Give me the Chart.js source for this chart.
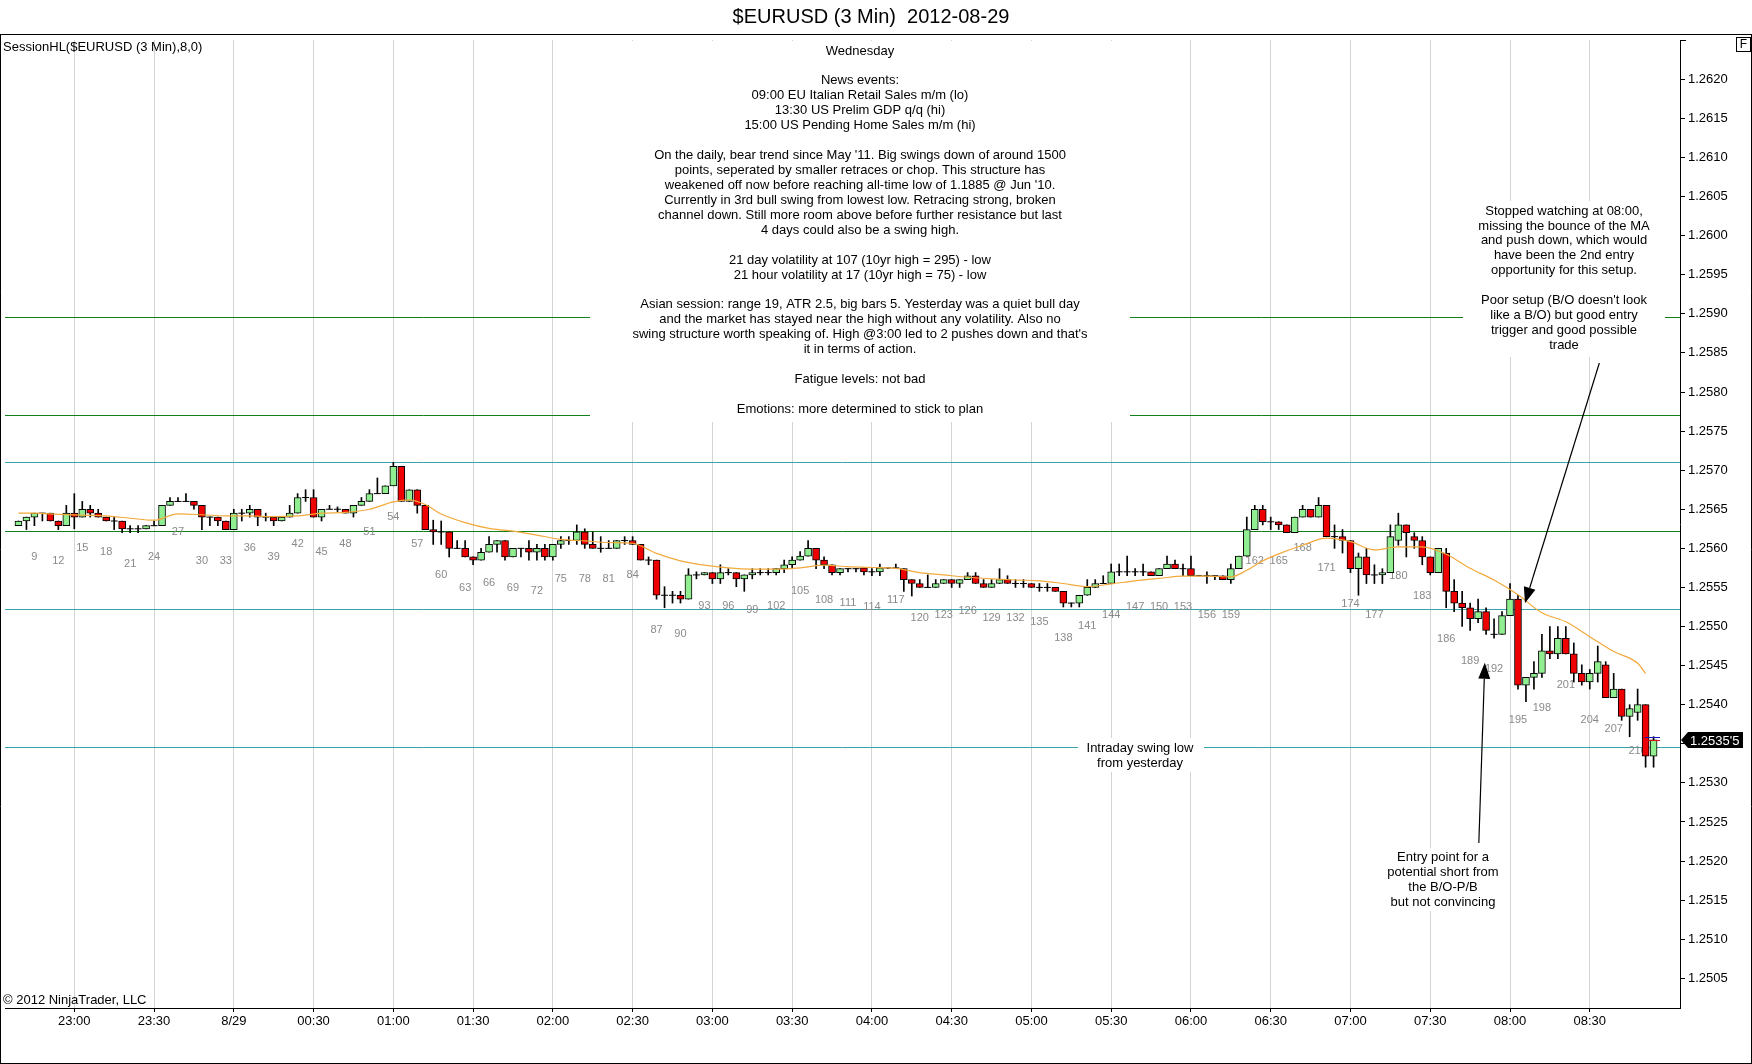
<!DOCTYPE html>
<html>
<head>
<meta charset="utf-8">
<title>$EURUSD (3 Min) 2012-08-29</title>
<script src="https://cdn.jsdelivr.net/npm/chart.js@4.4.1/dist/chart.umd.min.js"></script>
<style>
  html, body { margin: 0; padding: 0; background: #fff; }
  #wrap { width: 1752px; height: 1064px; }
</style>
</head>
<body>
<div id="wrap"><canvas id="chart" width="1752" height="1064"></canvas></div>
<script>
// bar numbers run from firstBar, one entry per 3-minute bar
const firstBar = 7;

const opens = [
  1.25629,1.25635,1.2564,1.25645,1.25645,1.25635,1.25629,1.25645,1.2564,1.2565,
  1.25645,1.2564,1.25635,1.25635,1.25625,1.25625,1.25625,1.25629,1.25629,1.25655,
  1.2566,1.2566,1.2566,1.25655,1.2564,1.2564,1.25635,1.25624,1.25645,1.25645,
  1.2565,1.2564,1.2564,1.25635,1.2564,1.25645,1.25665,1.25665,1.2564,1.2565,
  1.2565,1.2565,1.25645,1.25655,1.2566,1.2567,1.2567,1.2568,1.25705,1.2566,
  1.25675,1.25655,1.25624,1.25621,1.25621,1.256,1.256,1.25589,1.25585,1.25595,
  1.25605,1.2561,1.25589,1.256,1.256,1.25595,1.256,1.25589,1.25605,1.2561,
  1.2561,1.25621,1.25605,1.256,1.256,1.256,1.2561,1.2561,1.25605,1.25585,
  1.25585,1.2554,1.2554,1.2554,1.25535,1.25566,1.25566,1.25569,1.25561,1.25569,
  1.25569,1.25561,1.25566,1.25569,1.25569,1.25569,1.25574,1.25579,1.25585,1.2559,
  1.256,1.25585,1.25579,1.25569,1.25574,1.25574,1.25575,1.2557,1.2557,1.25575,
  1.25575,1.25574,1.2556,1.25555,1.2555,1.2555,1.25555,1.2556,1.25555,1.2556,
  1.25565,1.25555,1.2555,1.25555,1.2556,1.25555,1.25555,1.25555,1.2555,1.2555,
  1.2555,1.25545,1.2553,1.2553,1.2554,1.2555,1.25555,1.25555,1.2557,1.2557,
  1.2557,1.2557,1.2557,1.25565,1.25574,1.2558,1.25574,1.25574,1.25565,1.25565,
  1.25565,1.25565,1.2556,1.25574,1.2559,1.25624,1.2565,1.25634,1.25634,1.2563,
  1.2562,1.2564,1.2565,1.2564,1.25655,1.25615,1.25615,1.2561,1.25574,1.25589,
  1.25566,1.25566,1.25569,1.2561,1.2563,1.25615,1.2561,1.25589,1.25569,1.25594,
  1.25545,1.2553,1.25524,1.2551,1.25519,1.2549,1.2549,1.25514,1.25535,1.25425,
  1.25435,1.2544,1.25469,1.25465,1.25485,1.25465,1.2544,1.25429,1.2544,1.25451,
  1.25409,1.2542,1.25385,1.2539,1.254,1.25334
];
const highs = [
  1.25635,1.2564,1.25645,1.25645,1.25645,1.25635,1.25655,1.2567,1.2566,1.25655,
  1.2565,1.2564,1.2564,1.25635,1.25629,1.25629,1.25629,1.25635,1.25655,1.25665,
  1.25665,1.2567,1.2566,1.25655,1.2564,1.2564,1.25635,1.2565,1.2565,1.25655,
  1.2565,1.25645,1.2564,1.2564,1.25655,1.2567,1.25675,1.25675,1.2565,1.25655,
  1.25653,1.2565,1.25655,1.25665,1.25675,1.2569,1.2568,1.2571,1.25705,1.25675,
  1.25675,1.25655,1.25636,1.25635,1.25621,1.2561,1.2561,1.25589,1.256,1.25615,
  1.2561,1.2561,1.256,1.256,1.2561,1.25605,1.25605,1.25605,1.25615,1.25615,
  1.2563,1.25625,1.25621,1.25615,1.2561,1.2561,1.25615,1.25615,1.25605,1.25589,
  1.25585,1.25551,1.25545,1.25545,1.25574,1.2557,1.25569,1.25569,1.25579,1.25574,
  1.25569,1.25566,1.25574,1.25574,1.25574,1.25574,1.25585,1.25589,1.25596,1.2561,
  1.256,1.25589,1.25579,1.25574,1.25574,1.25574,1.25575,1.25574,1.2558,1.25575,
  1.2558,1.25574,1.2556,1.2556,1.25566,1.2556,1.2556,1.2556,1.2556,1.25569,
  1.25569,1.2556,1.2556,1.25574,1.25565,1.2556,1.2556,1.25555,1.25555,1.25555,
  1.2555,1.25545,1.2553,1.2554,1.2556,1.2556,1.25565,1.2558,1.2558,1.2559,
  1.25574,1.2558,1.2557,1.25574,1.2559,1.25585,1.2558,1.2559,1.25565,1.2557,
  1.25565,1.25565,1.2558,1.2559,1.2564,1.25655,1.25655,1.2564,1.25634,1.2563,
  1.2564,1.25655,1.2565,1.25665,1.25655,1.2563,1.25624,1.2561,1.25594,1.256,
  1.25579,1.25574,1.2563,1.25645,1.2563,1.2562,1.25615,1.25589,1.256,1.256,
  1.2556,1.25545,1.2553,1.25535,1.25524,1.2551,1.25519,1.25555,1.2554,1.25435,
  1.25455,1.2549,1.255,1.255,1.255,1.25479,1.25451,1.25445,1.25475,1.25455,
  1.2544,1.2542,1.254,1.2542,1.254,1.25359
];
const lows = [
  1.25629,1.25624,1.25629,1.25635,1.25635,1.25624,1.25629,1.25625,1.2564,1.2564,
  1.2564,1.25635,1.25624,1.2562,1.2562,1.2562,1.25625,1.25629,1.25629,1.25655,
  1.2566,1.2566,1.2565,1.25624,1.25629,1.25629,1.25624,1.25624,1.25635,1.2564,
  1.25629,1.25635,1.25629,1.25635,1.2564,1.25645,1.2566,1.2564,1.25635,1.2565,
  1.25647,1.25645,1.2564,1.25655,1.2566,1.2567,1.2567,1.2568,1.2566,1.2566,
  1.25645,1.25624,1.25605,1.25605,1.25589,1.256,1.25589,1.25579,1.25585,1.25595,
  1.25595,1.25585,1.25589,1.25589,1.25585,1.25585,1.25585,1.25585,1.256,1.25605,
  1.25605,1.256,1.256,1.25595,1.256,1.256,1.25605,1.25605,1.25585,1.25579,
  1.25535,1.25524,1.2553,1.2553,1.25535,1.25561,1.25566,1.25555,1.25555,1.25566,
  1.25551,1.25545,1.25561,1.25566,1.25566,1.25566,1.25569,1.25574,1.25585,1.2559,
  1.25574,1.25574,1.25566,1.25566,1.2557,1.2557,1.25566,1.25565,1.25565,1.25574,
  1.25574,1.25545,1.25539,1.2555,1.2555,1.2555,1.25555,1.2555,1.2555,1.2556,
  1.25555,1.2555,1.2555,1.25555,1.25555,1.2555,1.2555,1.2555,1.25545,1.25545,
  1.25545,1.25525,1.25525,1.25525,1.2554,1.2555,1.25555,1.25555,1.25565,1.25565,
  1.25565,1.25565,1.25565,1.25565,1.25574,1.25574,1.25565,1.25565,1.25565,1.25555,
  1.2556,1.2556,1.25555,1.25574,1.2559,1.25624,1.2563,1.25624,1.25624,1.2562,
  1.2562,1.2564,1.2564,1.2564,1.25615,1.256,1.25594,1.25569,1.2554,1.25555,
  1.25555,1.25555,1.25569,1.25604,1.25589,1.256,1.25579,1.25566,1.25569,1.25524,
  1.25519,1.255,1.25495,1.25505,1.2549,1.25485,1.2549,1.25514,1.2542,1.25404,
  1.2542,1.25435,1.25459,1.25459,1.25465,1.25429,1.25425,1.2542,1.25429,1.25409,
  1.25409,1.2538,1.25359,1.2538,1.2532,1.2532
];
const closes = [
  1.25635,1.2564,1.25645,1.25645,1.25635,1.25629,1.25645,1.2564,1.2565,1.25645,
  1.2564,1.25635,1.25635,1.25625,1.25625,1.25625,1.25629,1.25629,1.25655,1.2566,
  1.2566,1.2566,1.25655,1.2564,1.2564,1.25635,1.25624,1.25645,1.25645,1.2565,
  1.2564,1.2564,1.25635,1.2564,1.25645,1.25665,1.25665,1.2564,1.2565,1.2565,
  1.2565,1.25645,1.25655,1.2566,1.2567,1.2567,1.2568,1.25705,1.2566,1.25675,
  1.25655,1.25624,1.25621,1.25621,1.256,1.256,1.25589,1.25585,1.25595,1.25605,
  1.2561,1.25589,1.256,1.256,1.25595,1.256,1.25589,1.25605,1.2561,1.2561,
  1.25621,1.25605,1.256,1.256,1.256,1.2561,1.2561,1.25605,1.25585,1.25585,
  1.2554,1.2554,1.2554,1.25535,1.25566,1.25566,1.25569,1.25561,1.25569,1.25569,
  1.25561,1.25566,1.25569,1.25569,1.25569,1.25574,1.25579,1.25585,1.2559,1.256,
  1.25585,1.25579,1.25569,1.25574,1.25574,1.25574,1.2557,1.2557,1.25575,1.25575,
  1.25575,1.2556,1.25555,1.2555,1.2555,1.25555,1.2556,1.25555,1.2556,1.25565,
  1.25555,1.2555,1.25555,1.2556,1.25555,1.25555,1.25555,1.2555,1.2555,1.2555,
  1.25545,1.2553,1.2553,1.2554,1.2555,1.25555,1.25555,1.2557,1.2557,1.2557,
  1.2557,1.2557,1.25565,1.25574,1.2558,1.25574,1.25574,1.25565,1.25565,1.25565,
  1.25565,1.2556,1.25574,1.2559,1.25624,1.2565,1.25634,1.25634,1.2563,1.2562,
  1.2564,1.2565,1.2564,1.25655,1.25615,1.25615,1.2561,1.25574,1.25589,1.25566,
  1.25566,1.25569,1.25615,1.2563,1.2562,1.2561,1.25589,1.25569,1.256,1.25545,
  1.2553,1.25524,1.2551,1.25519,1.25495,1.2549,1.25514,1.25535,1.25425,1.25435,
  1.2544,1.25469,1.25465,1.25485,1.25465,1.2544,1.25429,1.2544,1.25455,1.25409,
  1.2542,1.25385,1.25395,1.254,1.25334,1.25355
];

// moving average
const maBars = [7, 9, 12, 15, 18, 21, 24, 27, 30, 33, 36, 39, 42, 45, 48, 51, 54, 56, 58, 60,
  63, 66, 69, 72, 75, 78, 81, 84, 87, 90, 93, 96, 99, 102, 105, 108, 111, 114, 117, 120,
  123, 126, 129, 132, 135, 138, 141, 144, 147, 150, 153, 156, 159, 161, 163, 165, 168, 171, 174, 177,
  180, 183, 186, 189, 192, 195, 198, 201, 204, 207, 210, 211];
const maValues = [1.25645, 1.25645, 1.256435, 1.256425, 1.256415, 1.256385, 1.25636, 1.25644, 1.25643, 1.256415,
  1.256415, 1.256405, 1.256415, 1.25645, 1.25646, 1.2565, 1.256595, 1.25662, 1.25656, 1.25644,
  1.25633, 1.256255, 1.25622, 1.25617, 1.256115, 1.256095, 1.256075, 1.256065, 1.255935, 1.25584,
  1.255785, 1.25575, 1.255735, 1.255735, 1.25575, 1.255785, 1.255765, 1.255755, 1.255745, 1.25569,
  1.25566, 1.25563, 1.25561, 1.255595, 1.255585, 1.25555, 1.25551, 1.255545, 1.255585, 1.255615,
  1.255645, 1.255645, 1.255635, 1.25572, 1.25584, 1.25593, 1.25604, 1.25613, 1.256085, 1.25598,
  1.25602, 1.25602, 1.255925, 1.255745, 1.255595, 1.255405, 1.255175, 1.25506, 1.25487, 1.25468,
  1.25453, 1.2544];

// bar counter labels under the bars
const countBars = [9, 12, 15, 18, 21, 24, 27, 30, 33, 36, 39, 42, 45, 48, 51, 54, 57, 60, 63, 66,
  69, 72, 75, 78, 81, 84, 87, 90, 93, 96, 99, 102, 105, 108, 111, 114, 117, 120, 123, 126,
  129, 132, 135, 138, 141, 144, 147, 150, 153, 156, 159, 162, 165, 168, 171, 174, 177, 180, 183, 186,
  189, 192, 195, 198, 201, 204, 207, 210];

// SessionHL and swing lines
const greenLevels = [1.25896, 1.2577, 1.25622];
const tealLevels = [1.2571, 1.25523, 1.25346];

// time axis
const timeBars = [14, 24, 34, 44, 54, 64, 74, 84, 94, 104, 114, 124, 134, 144, 154, 164, 174, 184, 194, 204];
const timeLabels = ['23:00', '23:30', '8/29', '00:30', '01:00', '01:30', '02:00', '02:30', '03:00', '03:30',
  '04:00', '04:30', '05:00', '05:30', '06:00', '06:30', '07:00', '07:30', '08:00', '08:30'];
const priceTicks = [1.2505, 1.251, 1.2515, 1.252, 1.2525, 1.253, 1.2535, 1.254, 1.2545, 1.255, 1.2555, 1.256,
  1.2565, 1.257, 1.2575, 1.258, 1.2585, 1.259, 1.2595, 1.26, 1.2605, 1.261, 1.2615, 1.262];

const notes = [
  'Wednesday', '', 'News events:', '09:00 EU Italian Retail Sales m/m (lo)',
  '13:30 US Prelim GDP q/q (hi)', '15:00 US Pending Home Sales m/m (hi)', '',
  "On the daily, bear trend since May '11. Big swings down of around 1500",
  'points, seperated by smaller retraces or chop. This structure has',
  "weakened off now before reaching all-time low of 1.1885 @ Jun '10.",
  'Currently in 3rd bull swing from lowest low. Retracing strong, broken',
  'channel down. Still more room above before further resistance but last',
  '4 days could also be a swing high.', '',
  '21 day volatility at 107 (10yr high = 295) - low',
  '21 hour volatility at 17 (10yr high = 75) - low', '',
  'Asian session: range 19, ATR 2.5, big bars 5. Yesterday was a quiet bull day',
  'and the market has stayed near the high without any volatility. Also no',
  "swing structure worth speaking of. High @3:00 led to 2 pushes down and that's",
  'it in terms of action.', '',
  'Fatigue levels: not bad', '',
  'Emotions: more determined to stick to plan'
];
const stopNotes = ['Stopped watching at 08:00,', 'missing the bounce of the MA', 'and push down, which would',
  'have been the 2nd entry', 'opportunity for this setup.', '', "Poor setup (B/O doesn't look",
  'like a B/O) but good entry', 'trigger and good possible', 'trade'];
const swingNotes = ['Intraday swing low', 'from yesterday'];
const entryNotes = ['Entry point for a', 'potential short from', 'the B/O-P/B', 'but not convincing'];

const FONT = '"Liberation Sans", Arial, sans-serif';
const UP = '#90ee90';
const DOWN = '#ee0000';

const bars = opens.map((_, k) => firstBar + k);
const wickData = bars.map((b, k) => ({ x: b, y: [lows[k], highs[k]] }));
const bodyData = [];
const bodyColors = [];
const dojiData = [];
bars.forEach((b, k) => {
  if (opens[k] === closes[k]) {
    dojiData.push({ x: b, y: closes[k] });
  } else {
    bodyData.push({ x: b, y: [opens[k], closes[k]] });
    bodyColors.push(closes[k] > opens[k] ? UP : DOWN);
  }
});
const maData = maBars.map((b, k) => ({ x: b, y: maValues[k] }));

function textBlock(ctx, lines, cx, y0, step) {
  lines.forEach((t, i) => { if (t) ctx.fillText(t, cx, y0 + i * step); });
}

function arrow(ctx, x1, y1, x2, y2) {
  const ang = Math.atan2(y2 - y1, x2 - x1);
  const len = 16, half = 6;
  const bx = x2 - Math.cos(ang) * len, by = y2 - Math.sin(ang) * len;
  ctx.beginPath();
  ctx.moveTo(x1, y1);
  ctx.lineTo(bx, by);
  ctx.stroke();
  ctx.beginPath();
  ctx.moveTo(x2, y2);
  ctx.lineTo(bx + Math.sin(ang) * half, by - Math.cos(ang) * half);
  ctx.lineTo(bx - Math.sin(ang) * half, by + Math.cos(ang) * half);
  ctx.closePath();
  ctx.fill();
}

const decor = {
  id: 'decor',
  beforeDraw(chart) {
    const ctx = chart.ctx;
    ctx.save();
    ctx.fillStyle = '#fff';
    ctx.fillRect(0, 0, chart.width, chart.height);
    ctx.restore();
  },
  beforeDatasetsDraw(chart) {
    const { ctx, chartArea: a, scales: { x, y } } = chart;
    ctx.save();
    ctx.lineWidth = 1;
    const hline = (v, color) => {
      const py = Math.round(y.getPixelForValue(v)) + 0.5;
      ctx.strokeStyle = color;
      ctx.beginPath();
      ctx.moveTo(a.left, py);
      ctx.lineTo(a.right, py);
      ctx.stroke();
    };
    greenLevels.forEach(v => hline(v, '#12801a'));
    tealLevels.forEach(v => hline(v, '#3aa3ad'));

    // white backgrounds of the text notes
    ctx.fillStyle = '#fff';
    ctx.fillRect(590, a.top + 1, 540, 381);
    ctx.fillRect(1463, 201, 202, 156);
    ctx.fillRect(1078, 738, 126, 34);
    ctx.fillRect(1390, 848, 107, 63);

    ctx.fillStyle = '#000';
    ctx.font = '13px ' + FONT;
    ctx.textAlign = 'center';
    ctx.textBaseline = 'middle';
    textBlock(ctx, notes, 860, 51, 14.93);
    textBlock(ctx, stopNotes, 1564, 211, 14.93);
    textBlock(ctx, swingNotes, 1140, 748, 15);
    textBlock(ctx, entryNotes, 1443, 857, 15);

    // bar counter every third bar, a little under the bar low
    ctx.fillStyle = '#8a8a8a';
    ctx.font = '11px ' + FONT;
    countBars.forEach(b => {
      const k = b - firstBar;
      ctx.fillText(String(b), x.getPixelForValue(b), y.getPixelForValue(lows[k]) + 31);
    });
    ctx.restore();
  },
  afterDraw(chart) {
    const { ctx, chartArea: a, scales: { x, y } } = chart;
    ctx.save();

    // small bid / ask marks on the last bar
    const lastBar = bars[bars.length - 1];
    const lastClose = closes[closes.length - 1];
    const xl = x.getPixelForValue(lastBar - 1.1), xr = x.getPixelForValue(lastBar + 0.8);
    ctx.lineWidth = 1;
    ctx.strokeStyle = '#1010c0';
    let py = Math.round(y.getPixelForValue(highs[highs.length - 1])) + 0.5;
    ctx.beginPath(); ctx.moveTo(xl, py); ctx.lineTo(xr, py); ctx.stroke();
    ctx.strokeStyle = '#e01010';
    py = Math.round(y.getPixelForValue(lastClose)) + 0.5;
    ctx.beginPath(); ctx.moveTo(xl + 2, py); ctx.lineTo(xr, py); ctx.stroke();

    // arrows
    ctx.strokeStyle = '#000';
    ctx.fillStyle = '#000';
    ctx.lineWidth = 1.2;
    arrow(ctx, x.getPixelForValue(205.2), y.getPixelForValue(1.258371),
      x.getPixelForValue(195.87), y.getPixelForValue(1.255297));
    arrow(ctx, x.getPixelForValue(190.09), y.getPixelForValue(1.25223),
      x.getPixelForValue(190.84), y.getPixelForValue(1.254537));

    // last price marker on the axis
    const my = Math.round(y.getPixelForValue(lastClose));
    ctx.beginPath();
    ctx.moveTo(a.right + 1, my);
    ctx.lineTo(a.right + 8, my - 8);
    ctx.lineTo(a.right + 63, my - 8);
    ctx.lineTo(a.right + 63, my + 8);
    ctx.lineTo(a.right + 8, my + 8);
    ctx.closePath();
    ctx.fill();
    const tenths = Math.round(lastClose * 1e5);
    ctx.fillStyle = '#fff';
    ctx.font = '13px ' + FONT;
    ctx.textAlign = 'left';
    ctx.textBaseline = 'middle';
    ctx.fillText((Math.floor(tenths / 10) / 1e4).toFixed(4) + "'" + (tenths % 10), a.right + 10, my + 1);

    // frame, title and labels
    ctx.strokeStyle = '#000';
    ctx.lineWidth = 1;
    ctx.beginPath();
    ctx.moveTo(0, 34.5); ctx.lineTo(chart.width, 34.5);
    ctx.moveTo(0.5, 34.5); ctx.lineTo(0.5, chart.height);
    ctx.moveTo(chart.width - 0.5, 34.5); ctx.lineTo(chart.width - 0.5, chart.height);
    ctx.moveTo(0, chart.height - 0.5); ctx.lineTo(chart.width, chart.height - 0.5);
    ctx.moveTo(a.right, a.top + 0.5); ctx.lineTo(a.right + 6, a.top + 0.5);
    ctx.stroke();
    ctx.strokeRect(1736.5, 37.5, 14, 14);

    ctx.fillStyle = '#000';
    ctx.textAlign = 'center';
    ctx.font = '12px ' + FONT;
    ctx.fillText('F', 1743.5, 45);
    ctx.font = '20px ' + FONT;
    ctx.fillText('$EURUSD (3 Min)  2012-08-29', 871, 17);
    ctx.textAlign = 'left';
    ctx.font = '13px ' + FONT;
    ctx.fillText('SessionHL($EURUSD (3 Min),8,0)', 3, 47);
    ctx.fillText('\u00a9 2012 NinjaTrader, LLC', 3, 1000);
    ctx.restore();
  }
};

new Chart(document.getElementById('chart'), {
  type: 'bar',
  data: {
    datasets: [
      {
        type: 'line',
        label: 'MA',
        data: maData,
        borderColor: '#f2a93b',
        borderWidth: 1.2,
        pointRadius: 0,
        cubicInterpolationMode: 'monotone',
        order: 0
      },
      {
        type: 'scatter',
        label: 'doji',
        data: dojiData,
        pointStyle: 'line',
        radius: 3.5,
        borderColor: '#000',
        borderWidth: 1,
        order: 1
      },
      {
        label: 'body',
        data: bodyData,
        backgroundColor: bodyColors,
        borderColor: '#000',
        borderWidth: 1,
        borderSkipped: false,
        barThickness: 7,
        grouped: false,
        order: 2
      },
      {
        label: 'wick',
        data: wickData,
        backgroundColor: '#000',
        borderWidth: 0,
        barThickness: 1,
        grouped: false,
        order: 3
      }
    ]
  },
  options: {
    responsive: false,
    devicePixelRatio: 1,
    animation: false,
    events: [],
    layout: { padding: { top: 40, left: 0, right: 0, bottom: 0 } },
    plugins: { legend: { display: false }, tooltip: { enabled: false }, title: { display: false } },
    scales: {
      x: {
        type: 'linear',
        min: 5.3125,
        max: 215.3125,
        offset: false,
        afterBuildTicks: s => { s.ticks = timeBars.map(v => ({ value: v })); },
        afterFit: s => { s.height = 56; },
        grid: { color: '#d4d4d4', lineWidth: 1, offset: false, drawTicks: true, tickLength: 4, tickColor: '#000' },
        border: { display: true, color: '#000', width: 1 },
        ticks: {
          autoSkip: false,
          maxRotation: 0,
          padding: 2,
          color: '#000',
          font: { family: FONT, size: 13 },
          callback: (v, i) => timeLabels[i]
        }
      },
      y: {
        position: 'right',
        min: 1.25012,
        max: 1.262503,
        afterBuildTicks: s => { s.ticks = priceTicks.map(v => ({ value: v })); },
        afterFit: s => { s.width = 72; },
        grid: { drawOnChartArea: false, drawTicks: true, tickLength: 5, tickColor: '#000' },
        border: { display: true, color: '#000', width: 1 },
        ticks: {
          padding: 3,
          color: '#000',
          font: { family: FONT, size: 13 },
          callback: v => v.toFixed(4)
        }
      }
    }
  },
  plugins: [decor]
});
</script>
</body>
</html>
